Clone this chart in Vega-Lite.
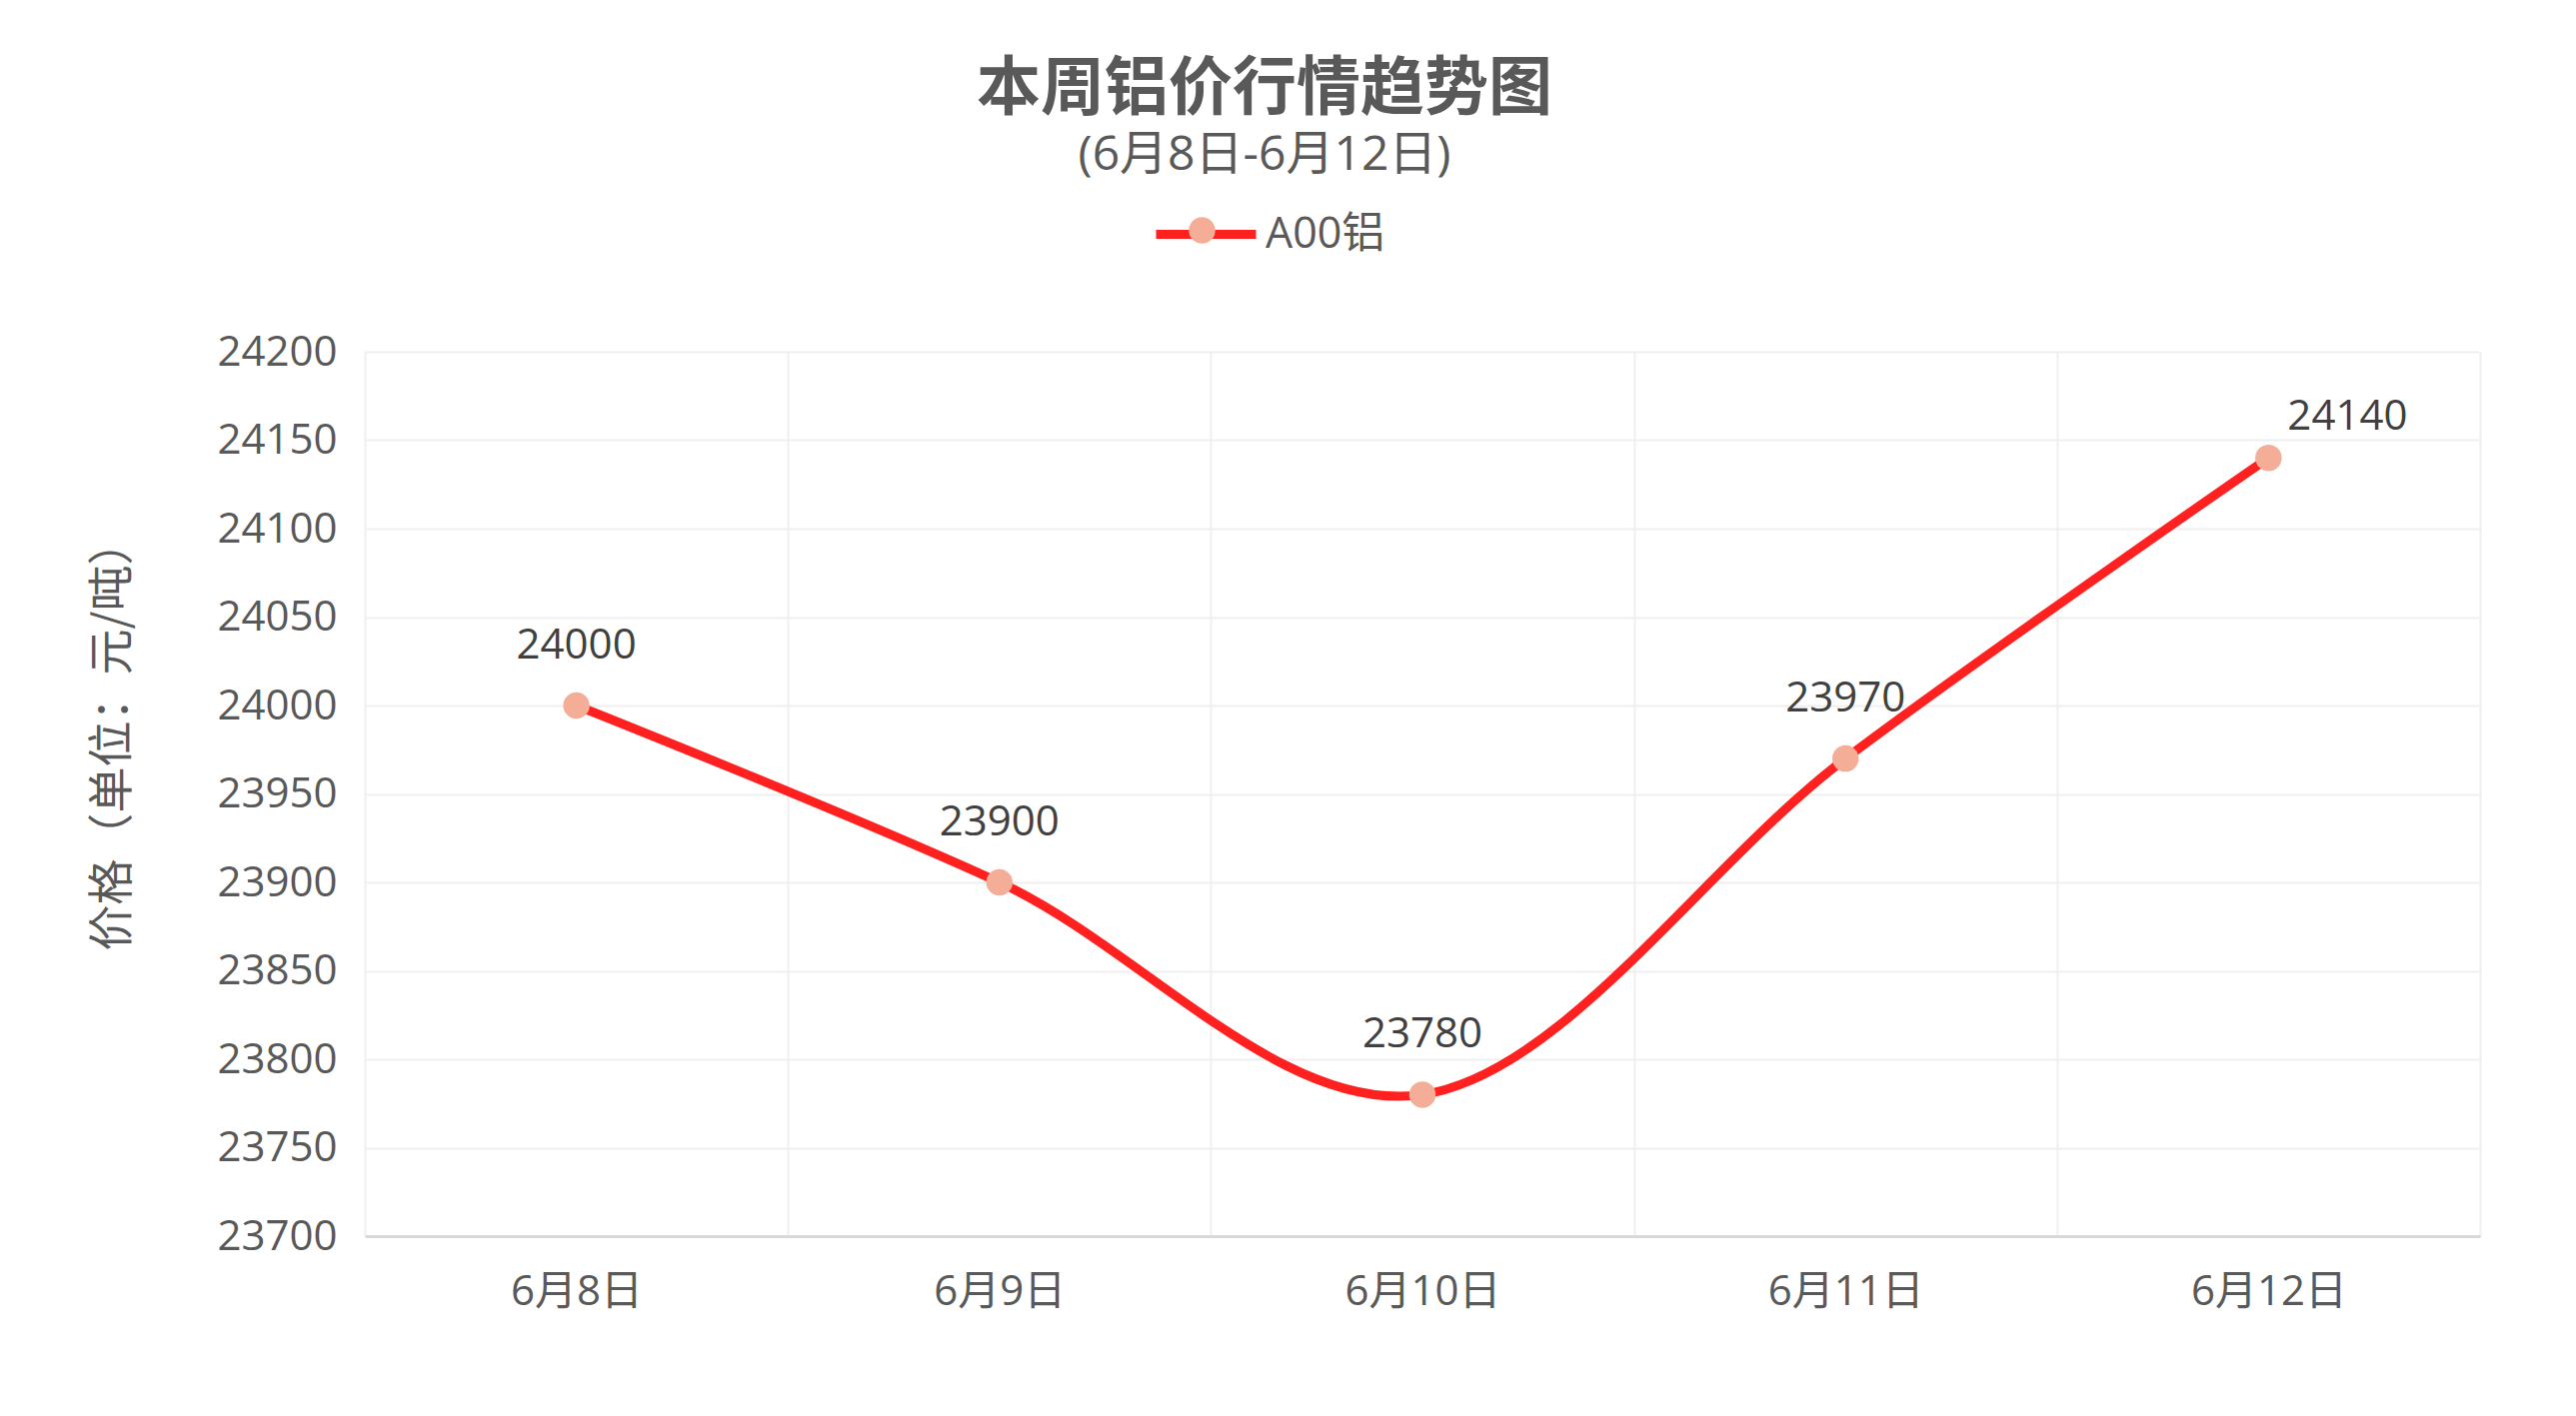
{
  "$schema": "https://vega.github.io/schema/vega-lite/v6.json",
  "width": 2116,
  "height": 885,
  "autosize": {"type": "none"},
  "padding": {"left": 365, "top": 352, "right": 96, "bottom": 180},
  "background": "white",
  "config": {
    "font": "Open Sans, Noto Sans CJK SC",
    "view": {"stroke": null}
  },
  "title": {
    "text": "本周铝价行情趋势图",
    "subtitle": "(6月8日-6月12日)",
    "anchor": "middle",
    "dx": -158,
    "font": "Noto Sans CJK SC",
    "fontSize": 64,
    "fontWeight": "bold",
    "color": "#595959",
    "subtitleFont": "Open Sans, Noto Sans CJK SC",
    "subtitleFontSize": 48,
    "subtitleColor": "#595959",
    "subtitlePadding": 10,
    "offset": 0
  },
  "data": {
    "values": [
      {"date": "6月8日", "price": 24000, "series": "A00铝"},
      {"date": "6月9日", "price": 23900, "series": "A00铝"},
      {"date": "6月10日", "price": 23780, "series": "A00铝"},
      {"date": "6月11日", "price": 23970, "series": "A00铝"},
      {"date": "6月12日", "price": 24140, "series": "A00铝"}
    ]
  },
  "encoding": {
    "x": {
      "field": "date",
      "type": "ordinal",
      "sort": null,
      "scale": {"type": "band", "paddingInner": 0, "paddingOuter": 0},
      "axis": {
        "title": null,
        "labelAngle": 0,
        "labelFontSize": 42,
        "labelColor": "#595959",
        "labelPadding": 35,
        "ticks": false,
        "tickBand": "extent",
        "grid": true,
        "gridColor": "#efefef",
        "gridWidth": 2,
        "domainColor": "#d9d9d9",
        "domainWidth": 3
      }
    },
    "y": {
      "field": "price",
      "type": "quantitative",
      "scale": {"domain": [23700, 24200], "zero": false, "nice": false},
      "axis": {
        "values": [23700, 23750, 23800, 23850, 23900, 23950, 24000, 24050, 24100, 24150, 24200],
        "format": "d",
        "title": "价格（单位：元/吨）",
        "titleFont": "Noto Sans CJK SC",
        "titleFontSize": 46,
        "titleFontWeight": "normal",
        "titleColor": "#595959",
        "titleX": -253,
        "titleY": 383,
        "titleAngle": -90,
        "titleAlign": "center",
        "titleBaseline": "middle",
        "labelFontSize": 42,
        "labelColor": "#595959",
        "labelPadding": 28,
        "ticks": false,
        "domain": false,
        "gridColor": "#efefef",
        "gridWidth": 2
      }
    }
  },
  "layer": [
    {
      "mark": {"type": "line", "interpolate": "cardinal", "tension": 0, "strokeWidth": 9, "strokeCap": "round"},
      "encoding": {
        "stroke": {
          "field": "series",
          "type": "nominal",
          "scale": {"range": ["#ff2020"]},
          "legend": {
            "orient": "none",
            "legendX": 787,
            "legendY": -172,
            "title": null,
            "padding": 0,
            "symbolType": "stroke",
            "symbolStrokeWidth": 9,
            "symbolSize": 10000,
            "labelFontSize": 43,
            "labelColor": "#595959",
            "labelOffset": 5
          }
        }
      }
    },
    {
      "mark": {"type": "point", "filled": true, "size": 700, "opacity": 1},
      "encoding": {
        "fill": {
          "field": "series",
          "type": "nominal",
          "scale": {"range": ["#f4ae98"]},
          "legend": {
            "orient": "none",
            "legendX": 824,
            "legendY": -135,
            "title": null,
            "padding": 0,
            "symbolType": "circle",
            "symbolSize": 700,
            "symbolOpacity": 1,
            "symbolStrokeWidth": 0,
            "labelOpacity": 0
          }
        }
      }
    },
    {
      "transform": [{"filter": "datum.date != '6月12日'"}],
      "mark": {"type": "text", "fontSize": 42, "color": "#404040", "dy": -60, "baseline": "middle"},
      "encoding": {"text": {"field": "price", "type": "quantitative", "format": "d"}}
    },
    {
      "transform": [{"filter": "datum.date == '6月12日'"}],
      "mark": {"type": "text", "fontSize": 42, "color": "#404040", "dx": 79, "dy": -41, "baseline": "middle"},
      "encoding": {"text": {"field": "price", "type": "quantitative", "format": "d"}}
    }
  ]
}
